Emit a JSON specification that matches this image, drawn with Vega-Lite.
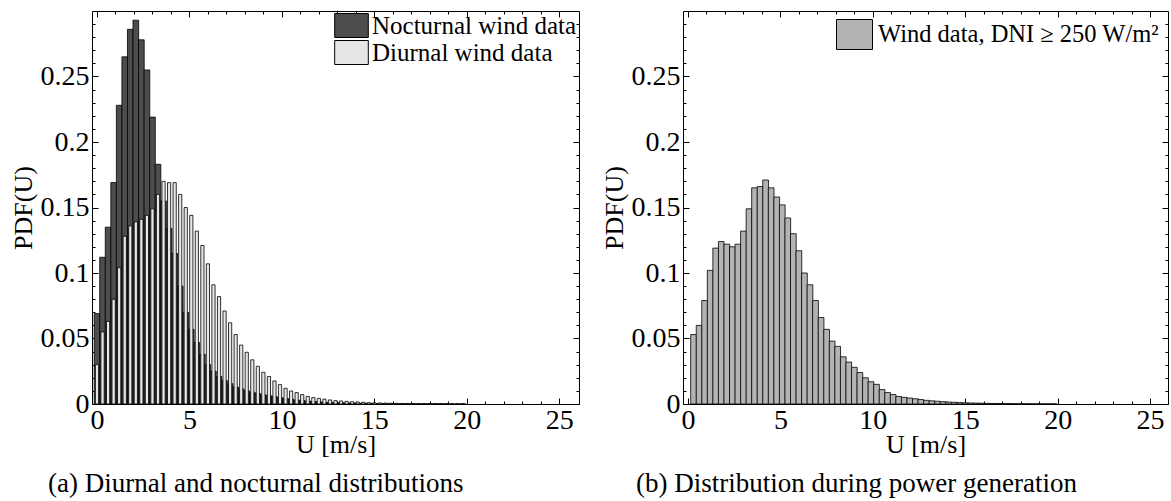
{
  "$schema": "https://vega.github.io/schema/vega-lite/v6.json",
  "padding": {"left": 9, "top": 9, "right": 0, "bottom": 0},
  "config": {
    "font": "Liberation Serif",
    "view": {"stroke": "black", "strokeWidth": 1},
    "axis": {"grid": false, "domain": false, "labelFont": "Liberation Serif", "labelFontSize": 28, "labelColor": "black", "titleFont": "Liberation Serif", "titleFontSize": 26, "titleFontWeight": "normal", "titleColor": "black", "tickColor": "black", "tickWidth": 1, "labelOverlap": false, "labelFlush": false},
    "legend": {"orient": "top-right", "offset": 2, "padding": 0, "labelFont": "Liberation Serif", "labelFontSize": 25, "labelColor": "black", "symbolStrokeColor": "black", "symbolStrokeWidth": 1, "symbolOpacity": 1, "labelOffset": 5, "labelLimit": 400},
    "title": {"font": "Liberation Serif", "fontSize": 27, "fontWeight": "normal", "color": "black"},
    "concat": {"spacing": 20}
  },
  "datasets": {
    "left": [
      {"u": 0.0, "noct": 0.069, "diur": 0.03},
      {"u": 0.3, "noct": 0.112, "diur": 0.055},
      {"u": 0.6, "noct": 0.135, "diur": 0.063},
      {"u": 0.9, "noct": 0.169, "diur": 0.080},
      {"u": 1.2, "noct": 0.228, "diur": 0.104},
      {"u": 1.5, "noct": 0.265, "diur": 0.128},
      {"u": 1.8, "noct": 0.286, "diur": 0.136},
      {"u": 2.1, "noct": 0.293, "diur": 0.139},
      {"u": 2.4, "noct": 0.278, "diur": 0.141},
      {"u": 2.7, "noct": 0.255, "diur": 0.144},
      {"u": 3.0, "noct": 0.219, "diur": 0.149},
      {"u": 3.3, "noct": 0.183, "diur": 0.160},
      {"u": 3.6, "noct": 0.155, "diur": 0.170},
      {"u": 3.9, "noct": 0.134, "diur": 0.169},
      {"u": 4.2, "noct": 0.115, "diur": 0.169},
      {"u": 4.5, "noct": 0.090, "diur": 0.160},
      {"u": 4.8, "noct": 0.070, "diur": 0.150},
      {"u": 5.1, "noct": 0.057, "diur": 0.144},
      {"u": 5.4, "noct": 0.047, "diur": 0.132},
      {"u": 5.7, "noct": 0.038, "diur": 0.121},
      {"u": 6.0, "noct": 0.030, "diur": 0.107},
      {"u": 6.3, "noct": 0.025, "diur": 0.091},
      {"u": 6.6, "noct": 0.021, "diur": 0.082},
      {"u": 6.9, "noct": 0.018, "diur": 0.071},
      {"u": 7.2, "noct": 0.0155, "diur": 0.062},
      {"u": 7.5, "noct": 0.013, "diur": 0.053},
      {"u": 7.8, "noct": 0.0115, "diur": 0.045},
      {"u": 8.1, "noct": 0.010, "diur": 0.0395},
      {"u": 8.4, "noct": 0.009, "diur": 0.0337},
      {"u": 8.7, "noct": 0.008, "diur": 0.0288},
      {"u": 9.0, "noct": 0.007, "diur": 0.0242},
      {"u": 9.3, "noct": 0.0063, "diur": 0.021},
      {"u": 9.6, "noct": 0.0056, "diur": 0.0176},
      {"u": 9.9, "noct": 0.0048, "diur": 0.0148},
      {"u": 10.2, "noct": 0.0042, "diur": 0.012},
      {"u": 10.5, "noct": 0.0036, "diur": 0.0099},
      {"u": 10.8, "noct": 0.003, "diur": 0.0087},
      {"u": 11.1, "noct": 0.0026, "diur": 0.0072},
      {"u": 11.4, "noct": 0.0022, "diur": 0.0058},
      {"u": 11.7, "noct": 0.0019, "diur": 0.0049},
      {"u": 12.0, "noct": 0.0016, "diur": 0.0043},
      {"u": 12.3, "noct": 0.0014, "diur": 0.0037},
      {"u": 12.6, "noct": 0.0012, "diur": 0.0031},
      {"u": 12.9, "noct": 0.0010, "diur": 0.0026},
      {"u": 13.2, "noct": 0.0009, "diur": 0.0023},
      {"u": 13.5, "noct": 0.0008, "diur": 0.0020},
      {"u": 13.8, "noct": 0.0007, "diur": 0.0017},
      {"u": 14.1, "noct": 0.0006, "diur": 0.0015},
      {"u": 14.4, "noct": 0.0005, "diur": 0.0013},
      {"u": 14.7, "noct": 0.0004, "diur": 0.0011},
      {"u": 15.0, "noct": 0.0004, "diur": 0.0009},
      {"u": 15.3, "noct": 0.0003, "diur": 0.0008},
      {"u": 15.6, "noct": 0.0003, "diur": 0.0007},
      {"u": 15.9, "noct": 0.0002, "diur": 0.0006},
      {"u": 16.2, "noct": 0.0002, "diur": 0.0005},
      {"u": 16.5, "noct": 0.0002, "diur": 0.0004},
      {"u": 16.8, "noct": 0.0001, "diur": 0.0004},
      {"u": 17.1, "noct": 0.0001, "diur": 0.0003},
      {"u": 17.4, "noct": 0.0001, "diur": 0.0003},
      {"u": 17.7, "noct": 0.0001, "diur": 0.0002},
      {"u": 18.0, "noct": 0.0001, "diur": 0.0002},
      {"u": 18.3, "noct": 0.0001, "diur": 0.0002},
      {"u": 18.6, "noct": 0.0001, "diur": 0.0001},
      {"u": 18.9, "noct": 0, "diur": 0.0001},
      {"u": 19.2, "noct": 0, "diur": 0.0001},
      {"u": 19.5, "noct": 0, "diur": 0.0001},
      {"u": 19.8, "noct": 0, "diur": 0.0001}
    ],
    "right": [
      {"u": 0.3, "pdf": 0.053}, {"u": 0.6, "pdf": 0.060}, {"u": 0.9, "pdf": 0.079}, {"u": 1.2, "pdf": 0.102},
      {"u": 1.5, "pdf": 0.119}, {"u": 1.8, "pdf": 0.124}, {"u": 2.1, "pdf": 0.122}, {"u": 2.4, "pdf": 0.120},
      {"u": 2.7, "pdf": 0.122}, {"u": 3.0, "pdf": 0.132}, {"u": 3.3, "pdf": 0.149}, {"u": 3.6, "pdf": 0.165},
      {"u": 3.9, "pdf": 0.166}, {"u": 4.2, "pdf": 0.171}, {"u": 4.5, "pdf": 0.165}, {"u": 4.8, "pdf": 0.158},
      {"u": 5.1, "pdf": 0.152}, {"u": 5.4, "pdf": 0.142}, {"u": 5.7, "pdf": 0.130}, {"u": 6.0, "pdf": 0.117},
      {"u": 6.3, "pdf": 0.100}, {"u": 6.6, "pdf": 0.091}, {"u": 6.9, "pdf": 0.079}, {"u": 7.2, "pdf": 0.066},
      {"u": 7.5, "pdf": 0.057}, {"u": 7.8, "pdf": 0.048}, {"u": 8.1, "pdf": 0.044}, {"u": 8.4, "pdf": 0.036},
      {"u": 8.7, "pdf": 0.032}, {"u": 9.0, "pdf": 0.028}, {"u": 9.3, "pdf": 0.024}, {"u": 9.6, "pdf": 0.020},
      {"u": 9.9, "pdf": 0.017}, {"u": 10.2, "pdf": 0.015}, {"u": 10.5, "pdf": 0.011}, {"u": 10.8, "pdf": 0.0087},
      {"u": 11.1, "pdf": 0.0072}, {"u": 11.4, "pdf": 0.0057}, {"u": 11.7, "pdf": 0.0051}, {"u": 12.0, "pdf": 0.0045},
      {"u": 12.3, "pdf": 0.0040}, {"u": 12.6, "pdf": 0.0034}, {"u": 12.9, "pdf": 0.0028}, {"u": 13.2, "pdf": 0.0024},
      {"u": 13.5, "pdf": 0.0021}, {"u": 13.8, "pdf": 0.0018}, {"u": 14.1, "pdf": 0.0015}, {"u": 14.4, "pdf": 0.0013},
      {"u": 14.7, "pdf": 0.0011}, {"u": 15.0, "pdf": 0.0009}, {"u": 15.3, "pdf": 0.0008}, {"u": 15.6, "pdf": 0.0007},
      {"u": 15.9, "pdf": 0.0006}, {"u": 16.2, "pdf": 0.0005}, {"u": 16.5, "pdf": 0.0004}, {"u": 16.8, "pdf": 0.0004},
      {"u": 17.1, "pdf": 0.0003}, {"u": 17.4, "pdf": 0.0003}, {"u": 17.7, "pdf": 0.0002}, {"u": 18.0, "pdf": 0.0002},
      {"u": 18.3, "pdf": 0.0002}, {"u": 18.6, "pdf": 0.0001}, {"u": 18.9, "pdf": 0.0001}, {"u": 19.2, "pdf": 0.0001},
      {"u": 19.5, "pdf": 0.0001}, {"u": 19.8, "pdf": 0.0001}
    ]
  },
  "resolve": {"scale": {"color": "independent"}, "legend": {"color": "independent"}},
  "hconcat": [
    {
      "width": 487,
      "height": 393,
      "title": {"text": "(a) Diurnal and nocturnal distributions", "orient": "bottom", "anchor": "start", "frame": "group", "dx": -44, "offset": 14},
      "data": {"name": "left"},
      "layer": [
        {
          "mark": {"type": "bar", "orient": "vertical", "size": 5.64, "stroke": "black", "strokeWidth": 0.8, "clip": true},
          "encoding": {
            "x": {"field": "u", "type": "quantitative", "scale": {"domain": [0, 25.8], "nice": false, "zero": false},
              "axis": {"orient": "bottom", "values": [0,1,2,3,4,5,6,7,8,9,10,11,12,13,14,15,16,17,18,19,20,21,22,23,24,25],
                "labelExpr": "datum.value % 5 === 0 ? datum.label : ''",
                "tickSize": {"condition": {"test": "datum.value % 5 === 0", "value": -6}, "value": -3},
                "labelPadding": 8, "title": "U  [m/s]", "titlePadding": -6}},
            "y": {"field": "noct", "type": "quantitative", "stack": null, "scale": {"domain": [0, 0.3], "nice": false},
              "axis": {"orient": "left", "values": [0,0.01,0.02,0.03,0.04,0.05,0.06,0.07,0.08,0.09,0.1,0.11,0.12,0.13,0.14,0.15,0.16,0.17,0.18,0.19,0.2,0.21,0.22,0.23,0.24,0.25,0.26,0.27,0.28,0.29],
                "labelExpr": "round(datum.value*100) % 5 === 0 ? '' + round(datum.value*100)/100 : ''",
                "tickSize": {"condition": {"test": "round(datum.value*100) % 5 === 0", "value": -6}, "value": -3},
                "labelPadding": 9, "title": "PDF(U)", "titlePadding": 4}},
            "color": {"datum": "Nocturnal wind data", "type": "nominal",
              "scale": {"domain": ["Nocturnal wind data", "Diurnal wind data"], "range": ["#4d4d4d", "#e6e6e6"]},
              "legend": {"title": null, "symbolType": "M-1.4,-1H1.4V1H-1.4Z", "symbolSize": 576, "rowPadding": -6, "labelOffset": 8}}
          }
        },
        {
          "mark": {"type": "bar", "orient": "vertical", "size": 3.2, "stroke": "black", "strokeWidth": 0.8, "clip": true},
          "encoding": {
            "x": {"field": "u", "type": "quantitative", "scale": {"domain": [0, 25.8], "nice": false, "zero": false},
              "axis": {"orient": "top", "values": [0,1,2,3,4,5,6,7,8,9,10,11,12,13,14,15,16,17,18,19,20,21,22,23,24,25],
                "labels": false, "title": null,
                "tickSize": {"condition": {"test": "datum.value % 5 === 0", "value": -6}, "value": -3}}},
            "y": {"field": "diur", "type": "quantitative", "stack": null, "scale": {"domain": [0, 0.3], "nice": false},
              "axis": {"orient": "right", "values": [0,0.01,0.02,0.03,0.04,0.05,0.06,0.07,0.08,0.09,0.1,0.11,0.12,0.13,0.14,0.15,0.16,0.17,0.18,0.19,0.2,0.21,0.22,0.23,0.24,0.25,0.26,0.27,0.28,0.29],
                "labels": false, "title": null,
                "tickSize": {"condition": {"test": "round(datum.value*100) % 5 === 0", "value": -6}, "value": -3}}},
            "color": {"datum": "Diurnal wind data", "type": "nominal",
              "scale": {"domain": ["Nocturnal wind data", "Diurnal wind data"], "range": ["#4d4d4d", "#e6e6e6"]},
              "legend": {"title": null, "symbolType": "M-1.4,-1H1.4V1H-1.4Z", "symbolSize": 576, "rowPadding": -6, "labelOffset": 8}}
          }
        }
      ],
      "resolve": {"axis": {"x": "independent", "y": "independent"}}
    },
    {
      "width": 485,
      "height": 393,
      "title": {"text": "(b) Distribution during power generation", "orient": "bottom", "anchor": "start", "frame": "group", "dx": -47, "offset": 14},
      "data": {"name": "right"},
      "layer": [
        {
          "mark": {"type": "bar", "orient": "vertical", "size": 5.7, "stroke": "black", "strokeWidth": 0.8, "clip": true},
          "encoding": {
            "x": {"field": "u", "type": "quantitative", "scale": {"domain": [0, 25.7], "nice": false, "zero": false},
              "axis": {"orient": "bottom", "values": [0,1,2,3,4,5,6,7,8,9,10,11,12,13,14,15,16,17,18,19,20,21,22,23,24,25],
                "labelExpr": "datum.value % 5 === 0 ? datum.label : ''",
                "tickSize": {"condition": {"test": "datum.value % 5 === 0", "value": -6}, "value": -3},
                "labelPadding": 8, "title": "U  [m/s]", "titlePadding": -6}},
            "y": {"field": "pdf", "type": "quantitative", "stack": null, "scale": {"domain": [0, 0.3], "nice": false},
              "axis": {"orient": "left", "values": [0,0.01,0.02,0.03,0.04,0.05,0.06,0.07,0.08,0.09,0.1,0.11,0.12,0.13,0.14,0.15,0.16,0.17,0.18,0.19,0.2,0.21,0.22,0.23,0.24,0.25,0.26,0.27,0.28,0.29],
                "labelExpr": "round(datum.value*100) % 5 === 0 ? '' + round(datum.value*100)/100 : ''",
                "tickSize": {"condition": {"test": "round(datum.value*100) % 5 === 0", "value": -6}, "value": -3},
                "labelPadding": 9, "title": "PDF(U)", "titlePadding": 4}},
            "color": {"datum": "Wind data, DNI ≥ 250 W/m²", "type": "nominal",
              "scale": {"domain": ["Wind data, DNI ≥ 250 W/m²"], "range": ["#b3b3b3"]},
              "legend": {"title": null, "symbolType": "M-1.2,-1H1.2V1H-1.2Z", "symbolSize": 900, "labelOffset": 8, "offset": 8, "labelFontSize": 24.5}}
          }
        },
        {
          "mark": {"type": "bar", "orient": "vertical", "size": 5.7, "opacity": 0, "clip": true},
          "encoding": {
            "x": {"field": "u", "type": "quantitative", "scale": {"domain": [0, 25.7], "nice": false, "zero": false},
              "axis": {"orient": "top", "values": [0,1,2,3,4,5,6,7,8,9,10,11,12,13,14,15,16,17,18,19,20,21,22,23,24,25],
                "labels": false, "title": null,
                "tickSize": {"condition": {"test": "datum.value % 5 === 0", "value": -6}, "value": -3}}},
            "y": {"field": "pdf", "type": "quantitative", "stack": null, "scale": {"domain": [0, 0.3], "nice": false},
              "axis": {"orient": "right", "values": [0,0.01,0.02,0.03,0.04,0.05,0.06,0.07,0.08,0.09,0.1,0.11,0.12,0.13,0.14,0.15,0.16,0.17,0.18,0.19,0.2,0.21,0.22,0.23,0.24,0.25,0.26,0.27,0.28,0.29],
                "labels": false, "title": null,
                "tickSize": {"condition": {"test": "round(datum.value*100) % 5 === 0", "value": -6}, "value": -3}}}
          }
        }
      ],
      "resolve": {"axis": {"x": "independent", "y": "independent"}}
    }
  ]
}
